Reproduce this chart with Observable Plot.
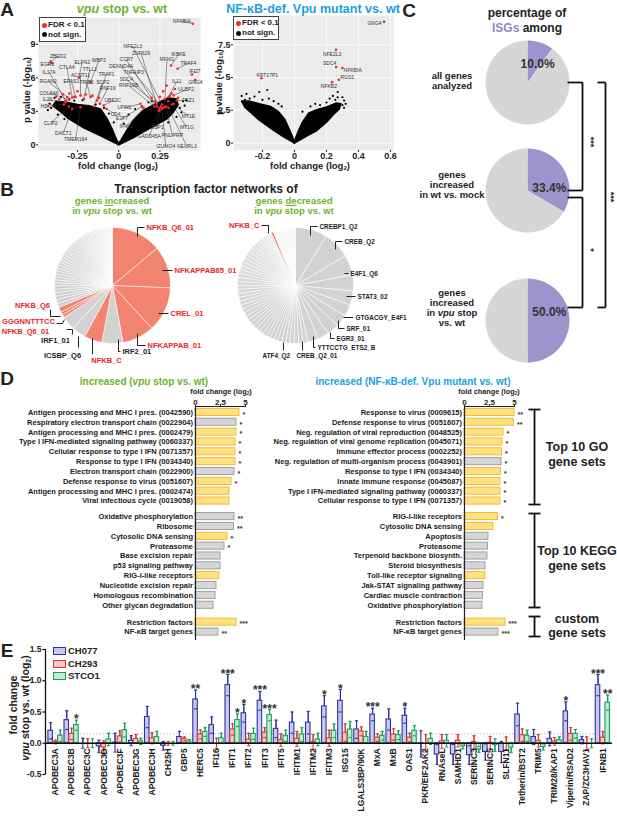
<!DOCTYPE html>
<html><head><meta charset="utf-8">
<script src="https://cdn.jsdelivr.net/npm/d3@7"></script>
<script src="https://cdn.jsdelivr.net/npm/@observablehq/plot@0.6"></script>
<style>
html,body{margin:0;padding:0;background:#fff;}
#root{position:relative;width:617px;height:817px;overflow:hidden;font-family:"Liberation Sans",Arial,Helvetica,sans-serif;}
#root svg{overflow:visible}
.lab{position:absolute;white-space:nowrap;font-weight:bold;line-height:1.12;}
.lab sub{font-size:65%;vertical-align:-0.25em;line-height:0}
</style></head><body><div id="root"></div>
<script>
// ================= DATA =================
// ---- Panel A: volcano "vpu stop vs. wt" (fold change log2, -log10 p) ----
const vpuCloudLeftArm = [[0,0],[-0.11,0.8],[-0.21,1.5],[-0.31,2.4],[-0.36,3.05],[-0.4,3.5],[-0.38,3.9],[-0.32,3.8],[-0.25,3.6],[-0.18,3.5],[-0.11,3.2],[-0.07,2.3],[-0.04,1.4],[-0.015,0.5],[0,0.1]];
const vpuCloudRightArm = [[0,0],[0.09,0.65],[0.19,1.5],[0.29,2.3],[0.33,2.9],[0.36,3.6],[0.35,4.1],[0.3,4.2],[0.23,3.7],[0.15,3.1],[0.09,2.2],[0.045,1.2],[0.015,0.45],[0,0.1]];
const vpuSparse = [[-0.42,3.7],[-0.41,3.3],[-0.39,4.2],[-0.35,4.3],[-0.3,4.1],[-0.27,3.95],[-0.22,4.0],[-0.14,3.6],[-0.09,3.3],[-0.06,2.8],[-0.03,2.0],[0.03,1.9],[0.06,2.7],[0.1,3.2],[0.14,3.45],[0.18,3.8],[0.2,3.9],[0.37,3.3],[0.38,2.9],[0.35,2.5],[-0.37,2.7],[-0.33,2.3],[0.3,2.0],[0.39,3.9],[0.4,3.5],[-0.43,3.1],[0.41,4.0]];
const vpuRedExtra = [[-0.36,4.1],[-0.34,4.5],[-0.3,4.6],[-0.27,4.3],[-0.25,4.8],[-0.2,4.5],[-0.16,4.4],[-0.12,4.2],[-0.38,4.3],[-0.32,3.9],[0.22,3.9],[0.25,4.3],[0.28,4.1],[0.3,3.9],[0.32,4.6],[0.27,4.8],[0.34,5.0],[0.29,5.3],[0.2,4.2],[0.36,4.2],[0.31,4.4]];
const vpuGenes = ["NFKBIA","ZBED2","EGR1","IL17A","RGAN2","COL6A6","IL26","HDC","CLIP2","DACT1","TMEM164","CTLA4","ELFN2","ACOT11","EPAS1","TRIB3","TTLL2","WBP2","TRAF1","SCP2","RNF19","UBE2C","CD4","LPIN1","IFNL2","E2F7","DENND4A","CCR7","NFE2L3","ZNF629","IKBKE","MFNG","TRAF4","IFI27","GNG4","ULBP2","FEZ1","MT1E","NEURL3","IZUMO4","GADD45A","PNLIPRP","GBP1","SDC4","RNF19B","TNFAIP3","MT1G","IL11"];
const vpuFC = [0.45,-0.413,-0.403,-0.323,-0.3125,-0.302,-0.323,-0.333,-0.302,-0.282,-0.232,-0.282,-0.242,-0.232,-0.262,-0.171,-0.212,-0.171,-0.131,-0.151,-0.115,-0.091,-0.075,0.131,0.151,0.141,0.248,0.232,0.262,0.242,0.317,0.278,0.357,0.444,0.464,0.333,0.353,0.333,0.302,0.262,0.248,0.288,0.256,0.232,0.216,0.268,0.323,0.302];
const vpuP = [10.84,7.46,7.31,3.97,4.27,4.03,3.82,3.61,3.43,3.22,3.37,4.21,6.0,4.42,4.27,4.27,4.09,5.61,3.97,3.43,3.67,3.52,3.22,3.67,3.31,3.43,3.07,3.43,3.61,3.07,7.10,3.37,6.81,6.30,5.82,4.42,3.97,3.67,3.31,3.22,3.31,3.43,3.43,3.67,3.43,3.31,3.61,4.27];
// annotation placement of the gene labels (data units)
const vpuLabelAt = [[0.383,11.07],[-0.369,7.91],[-0.433,7.19],[-0.423,6.51],[-0.429,5.70],[-0.423,4.63],[-0.433,4.03],[-0.44,3.46],[-0.413,1.94],[-0.337,1.04],[-0.262,0.45],[-0.315,6.95],[-0.222,7.40],[-0.232,6.25],[-0.288,5.70],[-0.196,5.61],[-0.175,6.72],[-0.121,7.55],[-0.075,6.30],[-0.097,5.58],[-0.067,5.07],[-0.036,3.97],[-0.02,2.72],[0.034,3.31],[0.046,1.64],[0.02,2.33],[0.014,7.01],[0.046,7.61],[0.085,8.81],[0.135,8.21],[0.363,8.09],[0.292,7.61],[0.423,7.31],[0.462,6.60],[0.466,5.60],[0.408,4.92],[0.423,3.97],[0.423,2.54],[0.413,-0.15],[0.285,-0.12],[0.185,0.75],[0.325,0.80],[0.232,1.52],[0.046,5.82],[0.06,5.31],[0.091,6.51],[0.413,1.58],[0.352,5.68]];

// ---- Panel A: volcano "NF-kB-def. Vpu mutant vs. wt" ----
const nfkbCloudLeftArm = [[0,0],[-0.07,0.5],[-0.13,0.97],[-0.23,1.86],[-0.31,2.75],[-0.33,3.2],[-0.28,3.2],[-0.22,3.0],[-0.15,2.8],[-0.1,2.4],[-0.06,1.8],[-0.03,1.0],[-0.01,0.4],[0,0.1]];
const nfkbCloudRightArm = [[0,0],[0.07,0.5],[0.14,0.97],[0.2,1.6],[0.245,2.2],[0.28,2.6],[0.29,3.0],[0.26,3.05],[0.2,2.75],[0.14,2.55],[0.09,2.3],[0.05,1.6],[0.02,0.8],[0,0.15]];
const nfkbSparse = [[-0.33,3.6],[-0.3,3.75],[-0.28,3.4],[-0.25,3.55],[-0.22,3.9],[-0.2,3.3],[-0.17,4.05],[-0.16,3.4],[-0.13,3.2],[-0.1,3.0],[-0.08,2.8],[-0.27,3.0],[-0.31,3.3],[0.05,2.4],[0.1,2.8],[0.13,3.0],[0.16,2.9],[0.2,3.1],[0.24,3.6],[0.255,3.3],[0.27,3.5],[0.3,3.5],[0.31,3.25],[0.22,3.4],[0.27,3.9],[0.3,2.9],[0.32,3.0],[0.31,2.7]];
const nfkbGenes = ["GNG4","NFE2L3","SDC4","NFKBIA","RGS1","NFKB2","KRT17P1"];
const nfkbFC = [0.56,0.26,0.26,0.30,0.277,0.235,-0.206];
const nfkbP = [9.25,7.12,5.8,5.72,4.83,4.65,4.95];
const nfkbLabelAt = [[0.50,9.15],[0.235,6.80],[0.22,6.05],[0.365,5.54],[0.33,5.03],[0.215,4.30],[-0.17,5.18]];

// ---- Panel B: transcription factor networks (slice shares) ----
const tfUpNames = ["NFKB_Q6_01","NFKAPPAB65_01","CREL_01","NFKAPPAB_01","IRF2_01","NFKB_C","ICSBP_Q6","IRF1_01","NFKB_Q6_01","GGGNNTTTCC","NFKB_Q6"];
const tfUpShare = [50,42,45,32,21,18,14,14,3,3,5];
const tfUpIsNFKB = [true,true,true,true,false,true,false,false,true,true,true];
const tfUpOtherShare = [4,4,3.5,3.5,3.5,3.5,3,3,3,3,3,3,3,3,3,3,3,3,3,3,3,3,3,3,3,3,3,3,3,3,3,3,3,3,3,3];
const tfDownNames = ["CREBP1_Q2","CREB_Q2","E4F1_Q6","STAT3_02","GTGACGY_E4F1","SRF_01","EGR3_01","YTTCCTG_ETS2_B","CREB_Q2_01","ATF4_Q2"];
const tfDownShare = [32,27,20,16,14,12,12,12,11,11];
const tfDownOtherShare = [4.5,4.5,4.5,4.5,4,4,4,4,4,4,4,4,4,4,4,4,4,4,4,4,4,4,4,4,4,4,4,4,4,4,4,4,4,4,4,4,3.5,3.5,3.5,3.5,3.5,3.5];
const tfDownNFKBShare = 2;
const tfDownRestShare = [4,4,4,3.5,3.5,3.5];

// ---- Panel C: percentage of ISGs ----
const isgGroups = ["all genes analyzed","genes increased in wt vs. mock","genes increased in vpu stop vs. wt"];
const isgShare = [10.0,33.4,50.0];

// ---- Panel D: gene set enrichment ----
const gseaVpuNames = ["Antigen processing and MHC I pres. (0042590)","Respiratory electron transport chain (0022904)","Antigen processing and MHC I pres. (0002479)","Type I IFN-mediated signaling pathway (0060337)","Cellular response to type I IFN (0071357)","Response to type I IFN (0034340)","Electron transport chain (0022900)","Defense response to virus (0051607)","Antigen processing and MHC I pres. (0002474)","Viral infectious cycle (0019058)",
 "Oxidative phosphorylation","Ribosome","Cytosolic DNA sensing","Proteasome","Base excision repair","p53 signaling pathway","RIG-I-like receptors","Nucleotide excision repair","Homologous recombination","Other glycan degradation",
 "Restriction factors","NF-κB target genes"];
const gseaVpuFC = [4.4,4.1,4.1,4.0,4.0,4.0,3.9,3.6,3.4,3.4, 3.9,3.85,3.2,2.9,2.5,2.5,2.4,2.1,2.0,1.8, 4.1,2.3];
const gseaVpuISG = [1,0,1,1,1,1,0,1,1,1, 0,0,1,0,0,0,1,0,0,0, 1,0];
const gseaVpuStars = ["*","*","*","*","*","*","*","*","","", "**","**","*","*","","","","","","", "***","**"];
const gseaMutNames = ["Response to virus (0009615)","Defense response to virus (0051607)","Neg. regulation of viral reproduction (0048525)","Neg. regulation of viral genome replication (0045071)","Immune effector process (0002252)","Neg. regulation of multi-organism process (0043901)","Response to type I IFN (0034340)","Innate immune response (0045087)","Type I IFN-mediated signaling pathway (0060337)","Cellular response to type I IFN (0071357)",
 "RIG-I-like receptors","Cytosolic DNA sensing","Apoptosis","Proteasome","Terpenoid backbone biosynth.","Steroid biosynthesis","Toll-like receptor signaling","Jak-STAT signaling pathway","Cardiac muscle contraction","Oxidative phosphorylation",
 "Restriction factors","NF-κB target genes"];
const gseaMutFC = [5.0,4.95,3.9,3.8,3.75,3.7,3.65,3.6,3.6,3.6, 3.35,2.9,2.4,2.35,2.3,2.1,2.1,1.9,1.85,1.8, 4.1,3.4];
const gseaMutISG = [1,1,1,1,1,0,1,1,1,1, 1,1,0,0,0,0,1,0,0,0, 1,0];
const gseaMutStars = ["**","**","*","*","*","*","*","*","*","*", "*","","","","","","","","","", "***","***"];

// ---- Panel E: qPCR fold change vpu stop vs wt (log2) ----
const genes = ["APOBEC3A","APOBEC3B","APOBEC3C","APOBEC3D","APOBEC3F","APOBEC3G","APOBEC3H","CH25H","GBP5","HERC5","IFI16","IFIT1","IFIT2","IFIT3","IFIT5","IFITM1","IFITM2","IFITM3","ISG15","LGALS3BP/90K","MxA","MxB","OAS1","PKR/EIF2AK2","RNAseL","SAMHD1","SERINC3","SERINC5","SLFN11","Tetherin/BST2","TRIM5","TRIM28/KAP1","Viperin/RSAD2","ZAP/ZC3HAV1","IFNB1"];
const ch077 = [0.20,0.37,0.00,-0.05,0.01,0.04,0.42,-0.04,0.10,0.70,0.29,0.93,0.48,0.68,0.23,0.33,0.33,0.59,0.68,0.22,0.46,0.38,0.44,-0.01,-0.18,-0.18,-0.19,-0.14,-0.14,0.46,0.10,0.07,0.51,0.05,0.93];
const ch077Err = [0.13,0.15,0.08,0.10,0.15,0.08,0.17,0.07,0.09,0.15,0.13,0.17,0.14,0.15,0.14,0.17,0.18,0.17,0.18,0.14,0.10,0.17,0.12,0.21,0.16,0.16,0.15,0.13,0.17,0.18,0.12,0.11,0.15,0.06,0.17];
const ch293 = [0.02,0.15,0.00,-0.07,0.11,0.07,0.08,0.00,0.07,0.14,0.00,0.22,0.06,0.17,0.05,0.07,0.02,0.08,0.17,0.19,0.09,0.14,0.09,0.00,0.03,0.04,0.02,0.01,0.00,0.13,0.04,0.03,0.15,0.00,0.09];
const ch293Err = [0.03,0.09,0.07,0.11,0.09,0.07,0.09,0.03,0.03,0.07,0.08,0.09,0.10,0.08,0.10,0.12,0.12,0.13,0.14,0.07,0.06,0.09,0.07,0.14,0.11,0.10,0.10,0.10,0.10,0.10,0.10,0.06,0.10,0.10,0.10];
const stco1 = [0.12,0.29,0.00,0.06,0.21,0.03,0.10,0.00,0.03,0.18,0.08,0.37,0.15,0.45,0.12,0.14,0.06,0.20,0.22,0.10,0.12,0.13,0.20,0.07,0.04,-0.05,-0.10,-0.03,-0.07,0.12,-0.06,0.05,0.15,0.00,0.65];
const stco1Err = [0.09,0.08,0.07,0.10,0.11,0.05,0.09,0.03,0.03,0.07,0.08,0.10,0.09,0.09,0.09,0.11,0.10,0.11,0.13,0.09,0.07,0.07,0.08,0.09,0.10,0.04,0.05,0.10,0.08,0.09,0.05,0.05,0.07,0.07,0.12];
const eSignif = [["APOBEC3B","STCO1","*"],["HERC5","CH077","**"],["IFIT1","CH077","***"],["IFIT1","STCO1","*"],["IFIT2","CH077","*"],["IFIT3","CH077","***"],["IFIT3","STCO1","***"],["IFITM3","CH077","*"],["ISG15","CH077","*"],["MxA","CH077","***"],["OAS1","CH077","*"],["Viperin/RSAD2","CH077","*"],["IFNB1","CH077","***"],["IFNB1","STCO1","**"]];
const eTicks = [-0.5,0,0.5,1,1.5];
const eThreshold = 0.15;

// ================= HELPERS =================
const FONT = '"Liberation Sans", Arial, Helvetica, sans-serif';
const GREEN = "#6cb52d", BLUE = "#1c9fe0", PURPLE = "#8e87c7";
const root = document.getElementById("root");
const baseStyle = {background:"transparent", fontFamily:FONT, fontWeight:"bold", fontSize:"9px", color:"#222", overflow:"visible"};
function put(node, x, y, w, h){
  const d = document.createElement("div");
  d.style.cssText = `position:absolute;left:${x}px;top:${y}px;width:${w}px;height:${h}px;`;
  d.appendChild(node); root.appendChild(d); return d;
}
function txt(html, x, y, o = {}){
  const d = document.createElement("div"); d.className = "lab"; d.innerHTML = html;
  const a = o.anchor || "middle";
  d.style.left = x + "px"; d.style.top = y + "px";
  d.style.fontSize = (o.size || 10) + "px"; d.style.color = o.color || "#222";
  if (o.weight) d.style.fontWeight = o.weight;
  if (o.family) d.style.fontFamily = o.family;
  if (o.lh) d.style.lineHeight = o.lh + "px";
  d.style.textAlign = a === "middle" ? "center" : a === "end" ? "right" : "left";
  const tx = a === "middle" ? "-50%" : a === "end" ? "-100%" : "0";
  d.style.transform = `translate(${tx},-50%)` + (o.rotate ? ` rotate(${o.rotate}deg)` : "");
  root.appendChild(d); return d;
}
function box(x, y, w, h, css){
  const d = document.createElement("div");
  d.style.cssText = `position:absolute;left:${x}px;top:${y}px;width:${w}px;height:${h}px;box-sizing:border-box;${css}`;
  root.appendChild(d); return d;
}

// ================= PANEL A =================
function volcanoPlot(o){
  const cloud = [];
  o.arms.forEach((arm, k) => arm.forEach(([x, y]) => cloud.push({arm:k, x, y})));
  const labels = o.genes.map((g, i) => ({g, x:o.fc[i], y:o.p[i], lx:o.at[i][0], ly:o.at[i][1]}));
  return Plot.plot({
    width:o.w, height:o.h, marginLeft:o.ml, marginRight:o.mr, marginTop:o.mt, marginBottom:o.mb,
    style:baseStyle,
    x:{domain:o.xd}, y:{domain:o.yd},
    marks:[
      Plot.frame({fill:"#ebebeb", stroke:"none"}),
      Plot.gridX(o.xt, {stroke:"#fff", strokeOpacity:1, strokeWidth:0.8}),
      Plot.gridY(o.yt, {stroke:"#fff", strokeOpacity:1, strokeWidth:0.8}),
      Plot.line(cloud, {x:"x", y:"y", z:"arm", fill:"#000", stroke:"#000", strokeWidth:1.6}),
      Plot.dot(o.sparse, {x:d => d[0], y:d => d[1], r:1.1, fill:"#000", stroke:"none"}),
      o.leaders ? Plot.link(labels, {x1:"lx", y1:"ly", x2:"x", y2:"y", stroke:"#333", strokeWidth:0.5}) : null,
      Plot.dot(o.red, {x:d => d[0], y:d => d[1], r:1.3, fill:"#ee2a2a", stroke:"none"}),
      Plot.dot(labels, {x:"x", y:"y", r:1.3, fill:"#ee2a2a", stroke:"none"}),
      Plot.text(labels, {x:"lx", y:"ly", text:"g", fontSize:5, fontWeight:"normal", fill:"#333"}),
      Plot.axisX(o.xt, {tickSize:2, tickPadding:0, tickFormat:d => String(d), label:null, fontSize:9}),
      Plot.axisY(o.yt, {tickSize:2, tickPadding:1, tickFormat:d => String(d), label:null, fontSize:9})
    ].filter(Boolean)
  });
}
put(volcanoPlot({w:205, h:175, ml:38, mr:5, mt:17, mb:25, xd:[-0.487,0.496], yd:[-0.51,11.4], xt:[-0.25,0,0.25], yt:[0,3,6,9],
  arms:[vpuCloudLeftArm, vpuCloudRightArm], sparse:vpuSparse, red:vpuRedExtra, genes:vpuGenes, fc:vpuFC, p:vpuP, at:vpuLabelAt, leaders:true}), 0, 0, 205, 175);
put(volcanoPlot({w:200, h:175, ml:38, mr:2, mt:15, mb:25, xd:[-0.381,0.619], yd:[-0.56,9.73], xt:[-0.2,0,0.2,0.4,0.6], yt:[0,2.5,5,7.5],
  arms:[nfkbCloudLeftArm, nfkbCloudRightArm], sparse:nfkbSparse, red:[], genes:nfkbGenes, fc:nfkbFC, p:nfkbP, at:nfkbLabelAt, leaders:false}), 195, 0, 200, 175);

// ================= PANEL B =================
const PIE_RED = "#f2836f", PIE_GRAY = "#d2d2d2", LAB_RED = "#e6262b";
function tfPie(o){
  const ux = px => (px - o.cx) / o.r, uy = py => (o.cy - py) / o.r;
  const total = d3.sum(o.sizes);
  const rows = []; let a = 0;
  o.sizes.forEach((s, k) => {
    const a0 = a, a1 = a + s / total * 360; a = a1;
    const n = Math.max(1, Math.ceil((a1 - a0) / 2));
    const c = o.colors[k];
    rows.push({k, x:0, y:0, c});
    for (let j = 0; j <= n; j++) { const t = (a0 + (a1 - a0) * j / n) * Math.PI / 180; rows.push({k, x:Math.sin(t), y:Math.cos(t), c}); }
  });
  const leaders = [];
  o.labels.forEach((L, k) => (L.leader || []).forEach(([px, py]) => leaders.push({k, x:ux(px), y:uy(py)})));
  const textMarks = o.labels.map(L => Plot.text([L], {x:() => ux(L.at[0]), y:() => uy(L.at[1]), text:() => L.text,
    fill:L.color || "#222", textAnchor:L.anchor || "start", fontSize:L.size || o.fontSize, fontFamily:FONT, fontWeight:"bold"}));
  return Plot.plot({
    width:o.w, height:o.h, margin:0,
    x:{domain:[ux(o.left), ux(o.left + o.w)], axis:null},
    y:{domain:[uy(o.top + o.h), uy(o.top)], axis:null},
    color:{type:"identity"},
    style:baseStyle,
    marks:[
      Plot.line(rows, {x:"x", y:"y", z:"k", fill:"c", stroke:"#fff", strokeWidth:0.7, strokeLinejoin:"round"}),
      Plot.line(leaders, {x:"x", y:"y", z:"k", stroke:"#222", strokeWidth:1, strokeLinecap:"butt", strokeLinejoin:"miter"}),
      ...textMarks
    ]
  });
}
const upSizes = [...tfUpShare, ...tfUpOtherShare];
const upColors = [...tfUpIsNFKB.map(b => b ? PIE_RED : PIE_GRAY),
  ...tfUpOtherShare.map((_, i, arr) => d3.interpolateRgb("#cfcfcf", "#f8f8f8")(Math.pow(i / (arr.length - 1), 2)))];
const upLabels = [
  {text:tfUpNames[0], at:[146,227], color:LAB_RED, leader:[[137,236],[137,227],[144,227]]},
  {text:tfUpNames[1], at:[174,270], color:LAB_RED, leader:[[162,270],[172,270]]},
  {text:tfUpNames[2], at:[170,313], color:LAB_RED, leader:[[158,313],[168,313]]},
  {text:tfUpNames[3], at:[147,345], color:LAB_RED, leader:[[137,333],[137,345],[145,345]]},
  {text:tfUpNames[4], at:[122,351], leader:[[118,339],[118,351],[120,351]]},
  {text:tfUpNames[5], at:[106,360], anchor:"middle", color:LAB_RED, leader:[[92,338],[92,354]]},
  {text:tfUpNames[6], at:[62,355], anchor:"middle", leader:[[78,336],[78,347]]},
  {text:tfUpNames[7], at:[55,340], anchor:"middle", leader:[[66,329],[72,329],[72,334]]},
  {text:tfUpNames[8], at:[25,331], anchor:"middle", color:LAB_RED},
  {text:tfUpNames[9], at:[28,321], anchor:"middle", color:LAB_RED, leader:[[56,323],[62,323],[64,319]]},
  {text:tfUpNames[10], at:[32,305], anchor:"middle", color:LAB_RED, leader:[[50,309],[50,316],[60,316]]}
];
put(tfPie({sizes:upSizes, colors:upColors, labels:upLabels, cx:112, cy:285, r:58, left:0, top:214, w:250, h:150, fontSize:7.5}), 0, 214, 250, 150);

const downSizes = [...tfDownShare, ...tfDownOtherShare, tfDownNFKBShare, ...tfDownRestShare];
const downColors = [...tfDownShare.map(() => PIE_GRAY),
  ...tfDownOtherShare.map((_, i, arr) => d3.interpolateRgb("#d2d2d2", "#ededed")(Math.pow(i / (arr.length - 1), 3))),
  "#f05a45", ...tfDownRestShare.map(() => "#f7f7f7")];
const downLabels = [
  {text:"NFKB_C", at:[259,225], anchor:"end", color:LAB_RED, size:7.5, leader:[[261,225],[268,225],[268,233]]},
  {text:tfDownNames[0], at:[319,226], leader:[[310,235],[310,226],[317,226]]},
  {text:tfDownNames[1], at:[344,241], leader:[[335,249],[335,241],[342,241]]},
  {text:tfDownNames[2], at:[350,273], leader:[[344,273],[348,273]]},
  {text:tfDownNames[3], at:[357,296], leader:[[346,296],[355,296]]},
  {text:tfDownNames[4], at:[355,317], leader:[[343,317],[353,317]]},
  {text:tfDownNames[5], at:[346,328], leader:[[338,320],[338,328],[344,328]]},
  {text:tfDownNames[6], at:[336,338], leader:[[330,332],[330,338],[334,338]]},
  {text:tfDownNames[7], at:[317,347], leader:[[313,336],[313,347],[315,347]]},
  {text:tfDownNames[8], at:[296,355], leader:[[302,341],[302,350]]},
  {text:tfDownNames[9], at:[262,355], leader:[[283,342],[283,350]]}
];
put(tfPie({sizes:downSizes, colors:downColors, labels:downLabels, cx:295, cy:285, r:58, left:200, top:214, w:215, h:150, fontSize:6.4}), 200, 214, 215, 150);

// ================= PANEL C =================
const pieCenters = [82, 190, 320];
const pctAt = [[0.24,0.445],[0.52,0.05],[0.52,0.19]];
function isgPie(share, at){
  const rows = []; let a = 0;
  [share, 100 - share].forEach((s, k) => {
    const a0 = a, a1 = a + s / 100 * 360; a = a1;
    const n = Math.ceil((a1 - a0) / 2), c = k === 0 ? "#9b94cd" : "#d6d6d6";
    rows.push({k, x:0, y:0, c});
    for (let j = 0; j <= n; j++) { const t = (a0 + (a1 - a0) * j / n) * Math.PI / 180; rows.push({k, x:Math.sin(t), y:Math.cos(t), c}); }
  });
  return Plot.plot({width:86, height:86, margin:1, x:{domain:[-1,1], axis:null}, y:{domain:[-1,1], axis:null}, color:{type:"identity"}, style:baseStyle,
    marks:[
      Plot.line(rows, {x:"x", y:"y", z:"k", fill:"c", stroke:"none"}),
      Plot.text([share], {x:() => at[0], y:() => at[1], text:d => d.toFixed(1) + "%", fontSize:12, fill:"#333", fontWeight:"bold"})
    ]});
}
isgShare.forEach((s, i) => put(isgPie(s, pctAt[i]), 484, pieCenters[i] - 43, 86, 86));

// ================= PANEL D =================
function gseaPlot(o){
  const rows = o.names.map((name, i) => ({name, v:o.fc[i], isg:!!o.isg[i], star:o.stars[i], pos:i + (i >= 10 ? 0.58 : 0) + (i >= 20 ? 0.72 : 0)}));
  return Plot.plot({
    width:o.w, height:272, marginLeft:o.ml, marginRight:o.mr, marginTop:36, marginBottom:2,
    style:baseStyle,
    x:{domain:[0,6]}, y:{domain:[-0.6,23.16], reverse:true, axis:null},
    marks:[
      Plot.rect(rows.filter(d => d.isg), {x1:0, x2:"v", y1:d => d.pos - 0.36, y2:d => d.pos + 0.36, fill:"#ffe27e", stroke:"#f0b33a", strokeWidth:0.9}),
      Plot.rect(rows.filter(d => !d.isg), {x1:0, x2:"v", y1:d => d.pos - 0.36, y2:d => d.pos + 0.36, fill:"#d6d6d6", stroke:"#999", strokeWidth:0.9}),
      Plot.ruleX([0], {y1:-0.6, y2:23.16, stroke:"#222", strokeWidth:1.2}),
      Plot.ruleY([-0.6], {x1:0, x2:5, stroke:"#222", strokeWidth:1}),
      Plot.text(rows, {x:0, y:"pos", text:"name", textAnchor:"end", dx:-2.5, fontSize:7.5, fill:"#1a1a1a"}),
      Plot.text(rows, {x:"v", y:"pos", text:"star", textAnchor:"start", dx:3, dy:2, fontSize:7, fill:"#333"}),
      Plot.axisX([0,2.5,5], {anchor:"top", tickSize:2, tickPadding:0, tickFormat:d => String(d), label:null, fontSize:8})
    ]
  });
}
put(gseaPlot({names:gseaVpuNames, fc:gseaVpuFC, isg:gseaVpuISG, stars:gseaVpuStars, w:262, ml:195, mr:7}), 0, 370, 262, 272);
put(gseaPlot({names:gseaMutNames, fc:gseaMutFC, isg:gseaMutISG, stars:gseaMutStars, w:235, ml:164, mr:11}), 300, 370, 235, 272);

// ================= PANEL E =================
(function(){
  const X0 = -0.62;
  const strains = [
    {name:"CH077", vals:ch077, err:ch077Err, off:-0.3, fill:"#c9caef", stroke:"#2f3399"},
    {name:"CH293", vals:ch293, err:ch293Err, off:0, fill:"#f8c7c7", stroke:"#e2332d"},
    {name:"STCO1", vals:stco1, err:stco1Err, off:0.3, fill:"#c4ebd5", stroke:"#17a05a"}];
  const marks = [Plot.ruleY([eThreshold], {stroke:"#aaa", strokeDasharray:"1.2,2", strokeWidth:0.9})];
  strains.forEach(s => {
    const rows = genes.map((g, i) => ({g, x:i + s.off, v:s.vals[i], e:s.err[i]}));
    marks.push(
      Plot.ruleX(rows, {x:"x", y1:d => d.v - d.e, y2:d => d.v + d.e, stroke:s.stroke, strokeWidth:1.1}),
      Plot.rect(rows, {x1:d => d.x - 0.14, x2:d => d.x + 0.14, y1:0, y2:"v", fill:s.fill, stroke:s.stroke, strokeWidth:1.1}),
      Plot.ruleX(rows, {x:"x", y1:d => d.v, y2:d => d.v + (d.v >= 0 ? d.e : -d.e), stroke:s.stroke, strokeWidth:1.1}),
      Plot.link(rows, {x1:d => d.x - 0.1, x2:d => d.x + 0.1, y1:d => d.v + d.e, y2:d => d.v + d.e, stroke:s.stroke, strokeWidth:1.1}),
      Plot.link(rows, {x1:d => d.x - 0.1, x2:d => d.x + 0.1, y1:d => d.v - d.e, y2:d => d.v - d.e, stroke:s.stroke, strokeWidth:1.1})
    );
  });
  const starRows = eSignif.map(([g, sn, t]) => { const i = genes.indexOf(g), s = strains.find(d => d.name === sn); return {x:i + s.off, y:s.vals[i] + s.err[i], t}; });
  marks.push(
    Plot.ruleY([0], {stroke:"#111", strokeWidth:1.4}),
    Plot.ruleX([X0], {y1:-0.5, y2:1.5, stroke:"#111", strokeWidth:1.3}),
    Plot.link(eTicks, {x1:X0, x2:X0 - 0.19, y1:d => d, y2:d => d, stroke:"#111", strokeWidth:1.2}),
    Plot.text(eTicks, {x:X0, y:d => d, text:d => d.toFixed(1), textAnchor:"end", dx:-4, fontSize:8.5, fill:"#222"}),
    Plot.text(starRows, {x:"x", y:"y", text:"t", lineAnchor:"bottom", dy:3, fontSize:12, fill:"#333"}),
    Plot.text(genes, {x:(d, i) => i, y:-0.08, text:d => d, rotate:-90, textAnchor:"end", fontSize:8.5, fill:"#1a1a1a"})
  );
  put(Plot.plot({width:617, height:177, marginLeft:45, marginRight:5, marginTop:9, marginBottom:43, style:baseStyle,
    x:{domain:[X0,34.6], axis:null}, y:{domain:[-0.5,1.5], axis:null}, marks}), 0, 640, 617, 177);
})();

// ================= ANNOTATION BRACKETS =================
const bracketSegs = [
  // panel C
  [567,82,582,82],[582,82,582,190],[567,190,582,190],
  [567,197,582,197],[582,197,582,307],[567,307,582,307],
  [597,82,605,82],[605,82,605,307],[597,307,605,307],
  // panel D
  [528,409,540,409],[534,409,534,504],[528,504,540,504],
  [528,513,540,513],[534,513,534,607],[528,607,540,607],
  [528,616,540,616],[534,616,534,636],[528,636,540,636]
].map(([x1,y1,x2,y2]) => ({x1,y1,x2,y2}));
put(Plot.plot({width:617, height:817, margin:0, x:{type:"identity", axis:null}, y:{type:"identity", axis:null}, style:baseStyle,
  marks:[Plot.link(bracketSegs, {x1:"x1", y1:"y1", x2:"x2", y2:"y2", stroke:"#111", strokeWidth:1.8, strokeLinecap:"butt"})]}), 0, 0, 617, 817).style.pointerEvents = "none";

// ================= TEXT =================
// panel letters
[["A",7,10],["B",7,190],["C",409,11],["D",7,379],["E",7,651]].forEach(([t,x,y]) => txt(t, x, y, {size:19}));
// A
txt("<i>vpu</i> stop vs. wt", 122, 9, {size:12.5, color:GREEN});
txt("NF-κB-def. Vpu mutant vs. wt", 313, 9, {size:12.5, color:BLUE});
txt("p value (-log<sub>10</sub>)", 27, 90, {size:9.5, rotate:-90});
txt("p value (-log<sub>10</sub>)", 219, 82, {size:9.5, rotate:-90});
txt("fold change (log<sub>2</sub>)", 118, 166, {size:9.5});
txt("fold change (log<sub>2</sub>)", 310, 166, {size:9.5});
[[39,17,47,25,25,34.5],[233,16,46,24,23,33]].forEach(([x,y,w,h,y1,y2]) => {
  box(x, y, w, h, "border:1px solid #444;background:#fff;");
  box(x+2.5, y1-2.5, 5, 5, "border-radius:50%;background:#ee2a2a;");
  box(x+2.5, y2-2.5, 5, 5, "border-radius:50%;background:#111;");
  txt("FDR &lt; 0.1", x+9, y1, {size:8, anchor:"start"});
  txt("not sign.", x+9, y2, {size:8, anchor:"start"});
});
// B
txt("Transcription factor networks of", 206, 190, {size:12});
txt("genes <u>in</u>creased<br>in <i>vpu</i> stop vs. wt", 112, 206, {size:9.5, color:GREEN, lh:10});
txt("genes <u>de</u>creased<br>in <i>vpu</i> stop vs. wt", 294, 206, {size:9.5, color:GREEN, lh:10});
// C
txt("percentage of<br><span style='color:" + PURPLE + "'>ISGs</span> among", 527, 21, {size:12, lh:15});
txt("all genes<br>analyzed", 452, 81, {size:9.5, lh:10});
txt("genes<br>increased<br>in wt vs. mock", 452, 185, {size:9.5, lh:10});
txt("genes<br>increased<br>in <i>vpu</i> stop<br>vs. wt", 452, 308, {size:9.5, lh:10});
txt("***", 591, 142, {size:9, rotate:90});
txt("*", 591, 250, {size:9, rotate:90});
txt("***", 611, 197, {size:9, rotate:90});
// D
txt("increased (<i>vpu</i> stop vs. wt)", 144, 381.5, {size:10, color:GREEN});
txt("increased (NF-κB-def. Vpu mutant vs. wt)", 413, 381.5, {size:10, color:BLUE});
txt("fold change (log<sub>2</sub>)", 221, 392, {size:7.3});
txt("fold change (log<sub>2</sub>)", 489, 392, {size:7.3});
txt("Top 10 GO<br>gene sets", 577, 455, {size:12.5, lh:15});
txt("Top 10 KEGG<br>gene sets", 577, 559, {size:12.5, lh:15});
txt("custom<br>gene sets", 577, 626, {size:12.5, lh:14});
// E
txt("fold change", 14, 705, {size:10.5, rotate:-90});
txt("<i>vpu</i> stop vs. wt (log<sub>2</sub>)", 26, 708, {size:10.5, rotate:-90});
[["CH077","#c9caef","#2f3399",651],["CH293","#f8c7c7","#e2332d",663.5],["STCO1","#c4ebd5","#17a05a",676]].forEach(([n,f,s,y]) => {
  box(53, y-4, 13, 8, `background:${f};border:1.3px solid ${s};`);
  txt(n, 68, y, {size:9.5, anchor:"start"});
});
</script></body></html>
